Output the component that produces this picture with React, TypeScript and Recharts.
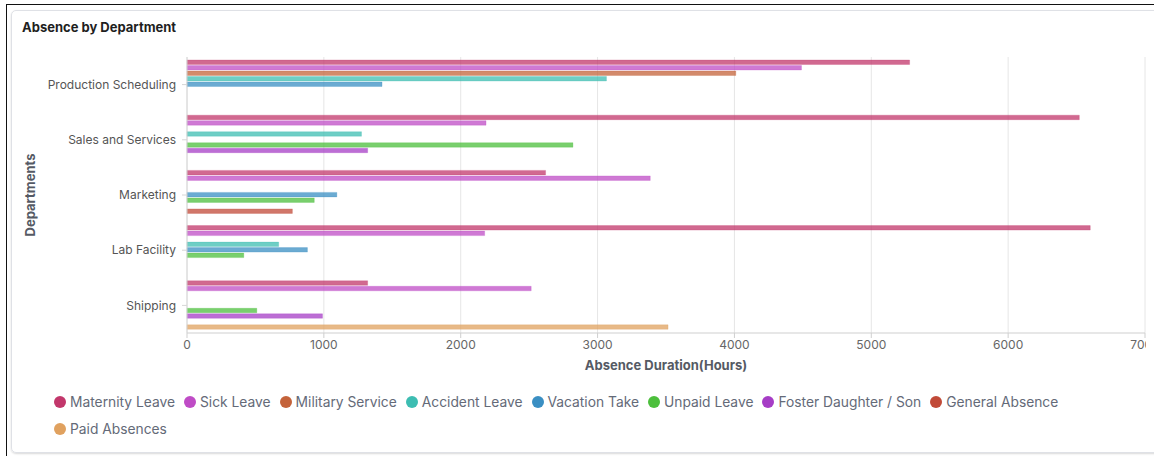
import { Bar, BarChart, CartesianGrid, XAxis, YAxis } from "recharts";

const departments = ["Production Scheduling", "Sales and Services", "Marketing", "Lab Facility", "Shipping"];

const maternityLeave = [5280, 6520, 2620, 6600, 1320];
const sickLeave = [4490, 2185, 3385, 2175, 2515];
const militaryService = [4010, null, null, null, null];
const accidentLeave = [3065, 1275, null, 670, null];
const vacationTake = [1425, null, 1095, 880, null];
const unpaidLeave = [null, 2820, 930, 415, 510];
const fosterDaughterSon = [null, 1320, null, null, 990];
const generalAbsence = [null, null, 770, null, null];
const paidAbsences = [null, null, null, null, 3515];

const xTicks = [0, 1000, 2000, 3000, 4000, 5000, 6000, 7000];

const SERIES = [
  { key: "maternity", name: "Maternity Leave", color: "#c2376b", values: maternityLeave },
  { key: "sick", name: "Sick Leave", color: "#bf4cc6", values: sickLeave },
  { key: "military", name: "Military Service", color: "#c4633a", values: militaryService },
  { key: "accident", name: "Accident Leave", color: "#3dbdb2", values: accidentLeave },
  { key: "vacation", name: "Vacation Take", color: "#3a8fc3", values: vacationTake },
  { key: "unpaid", name: "Unpaid Leave", color: "#4cbf3c", values: unpaidLeave },
  { key: "foster", name: "Foster Daughter / Son", color: "#a63dc6", values: fosterDaughterSon },
  { key: "general", name: "General Absence", color: "#c14a38", values: generalAbsence },
  { key: "paid", name: "Paid Absences", color: "#e0a15f", values: paidAbsences },
];

const data = departments.map((dept, i) => {
  const row: Record<string, string | number | null> = { dept };
  SERIES.forEach((s) => {
    row[s.key] = s.values[i];
  });
  return row;
});

const FONT = "Inter, 'Noto Sans', sans-serif";

function ChartLegend() {
  return (
    <div
      style={{
        position: "absolute",
        left: 54,
        top: 392,
        width: 1050,
        display: "flex",
        flexWrap: "wrap",
        columnGap: 9,
        rowGap: 8,
        fontFamily: FONT,
        fontSize: 13.8,
      }}
    >
      {SERIES.map((s) => (
        <div key={s.key} style={{ display: "flex", alignItems: "center", color: "#646a78", height: 19 }}>
          <span
            style={{
              width: 12,
              height: 12,
              borderRadius: 6,
              background: s.color,
              display: "inline-block",
              marginRight: 4,
            }}
          />
          {s.name}
        </div>
      ))}
    </div>
  );
}

export default function App() {
  return (
    <div style={{ position: "fixed", left: 0, top: 0, width: 1154, height: 456, background: "#fff", overflow: "hidden" }}>
      <div style={{ position: "absolute", left: 6, top: 4, width: 1148, height: 452, borderLeft: "1px solid #111", borderTop: "1px solid #111" }} />
      <div
        style={{
          position: "absolute",
          left: 11,
          top: 10,
          width: 1160,
          height: 441,
          border: "1px solid #dfe1e6",
          borderRadius: 5,
          boxShadow: "0 1px 2px rgba(0,0,0,0.15)",
        }}
      />
      <div style={{ position: "absolute", left: 22, top: 19, fontFamily: FONT, fontSize: 13, fontWeight: 700, color: "#1f1f1f" }}>
        Absence by Department
      </div>
      <div
        style={{
          position: "absolute",
          left: 30,
          top: 195,
          transform: "translate(-50%, -50%) rotate(-90deg)",
          fontFamily: FONT,
          fontSize: 13,
          fontWeight: 700,
          color: "#555a64",
          whiteSpace: "nowrap",
        }}
      >
        Departments
      </div>
      <div
        style={{
          position: "absolute",
          left: 666,
          top: 365,
          transform: "translate(-50%, -50%)",
          fontFamily: FONT,
          fontSize: 13,
          fontWeight: 700,
          color: "#555a64",
          whiteSpace: "nowrap",
        }}
      >
        Absence Duration(Hours)
      </div>
      <div style={{ position: "absolute", left: 0, top: 0, width: 1146, height: 456, overflow: "hidden" }}>
        <BarChart
          width={1160}
          height={456}
          data={data}
          layout="vertical"
          barSize={4.5}
          barGap={1}
          margin={{ top: 57, right: 15, left: 7, bottom: 93 }}
        >
          <CartesianGrid horizontal={false} stroke="#e6e6e6" />
          <XAxis
            type="number"
            domain={[0, 7000]}
            ticks={xTicks}
            interval={0}
            height={30}
            tick={{ fontSize: 12, fill: "#666", fontFamily: FONT }}
            stroke="#cfcfcf"
            tickSize={5}
          />
          <YAxis
            type="category"
            dataKey="dept"
            width={180}
            tick={{ fontSize: 12, fill: "#555", fontFamily: FONT }}
            stroke="#d6d6d6"
            tickSize={5}
            tickMargin={6}
          />
          {SERIES.map((s) => (
            <Bar
              key={s.key}
              dataKey={s.key}
              name={s.name}
              fill={s.color}
              fillOpacity={0.75}
              stroke={s.color}
              strokeOpacity={0.25}
              strokeWidth={1}
              isAnimationActive={false}
            />
          ))}
        </BarChart>
      </div>
      <ChartLegend />
    </div>
  );
}
